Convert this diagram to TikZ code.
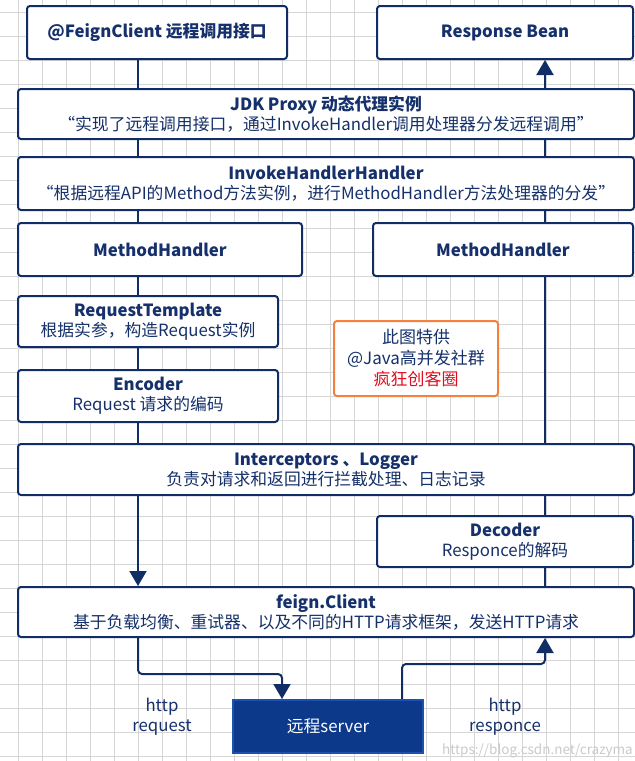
\documentclass[tikz,border=0pt]{standalone}
\usepackage{fontspec}
\setmainfont{Noto Sans CJK SC}
\usepackage{xcolor}
\definecolor{navyText}{HTML}{15306A}
\definecolor{navyLine}{HTML}{112D66}
\definecolor{srvFill}{HTML}{0D398A}
\definecolor{srvEdge}{HTML}{1E50B4}
\definecolor{noteOrange}{HTML}{F5813C}
\definecolor{noteRed}{HTML}{E00D1E}
\definecolor{gridGray}{HTML}{D6D6D6}
\definecolor{markGray}{HTML}{CACACA}
\usetikzlibrary{arrows.meta}

\begin{document}
\begin{tikzpicture}[x=1pt, y=-1pt,
    flowbox/.style={draw=navyLine, line width=2pt, fill=white, rounded corners=3pt, text=navyText, align=center, inner sep=0pt, font=\fontsize{16.8}{20}\selectfont},
    srvbox/.style={draw=srvEdge, line width=2pt, fill=srvFill, text=white, inner sep=0pt, font=\fontsize{16.8}{20}\selectfont},
    notebox/.style={draw=noteOrange, line width=2pt, fill=white, rounded corners=3pt, text=navyText, align=center, inner sep=0pt, font=\fontsize{17}{21}\selectfont},
    conn/.style={draw=navyLine, line width=2pt, rounded corners=4pt},
    headed/.style={-{Triangle[width=17pt,length=15pt]}},
    lbl/.style={text=navyText, align=center, font=\fontsize{16.8}{20}\selectfont}]
  \fill [white] (0,0) rectangle (635,761);
  \useasboundingbox (0,0) rectangle (635,761);
  \foreach \gx in {18,42,...,634} \draw [gridGray, line width=0.8pt] (\gx,0) -- (\gx,761);
  \foreach \gy in {12,36,...,756} \draw [gridGray, line width=0.8pt] (0,\gy) -- (635,\gy);
  \coordinate (lx) at (138,0);
  \coordinate (rx) at (545,0);
  \coordinate (inX) at (282,0);
  \coordinate (outX) at (402,0);

  \node [flowbox, minimum width=260pt, minimum height=53pt] (feignIf) at (157,32.5) {\textbf{@FeignClient 远程调用接口}};
  \node [flowbox, minimum width=256pt, minimum height=53pt] (respBean) at (505,32.5) {\textbf{Response Bean}};
  \node [flowbox, minimum width=616pt, minimum height=50pt] (jdkProxy) at (326,114) {\textbf{JDK Proxy 动态代理实例}\\“实现了远程调用接口，通过InvokeHandler调用处理器分发远程调用”};
  \node [flowbox, minimum width=616pt, minimum height=53pt] (invokeH) at (326,183.5) {\textbf{InvokeHandlerHandler}\\“根据远程API的Method方法实例，进行MethodHandler方法处理器的分发”};
  \node [flowbox, minimum width=284pt, minimum height=53pt] (methodL) at (160,249.5) {\textbf{MethodHandler}};
  \node [flowbox, minimum width=260pt, minimum height=53pt] (methodR) at (503,249.5) {\textbf{MethodHandler}};
  \node [flowbox, minimum width=260pt, minimum height=51pt] (reqTpl) at (148,321.5) {\textbf{RequestTemplate}\\根据实参，构造Request实例};
  \node [flowbox, minimum width=260pt, minimum height=52pt] (encoder) at (148,396) {\textbf{Encoder}\\Request 请求的编码};
  \node [flowbox, minimum width=616pt, minimum height=51pt] (intercept) at (326,469.5) {\textbf{Interceptors 、Logger}\\负责对请求和返回进行拦截处理、日志记录};
  \node [flowbox, minimum width=256pt, minimum height=51pt] (decoder) at (505,541.5) {\textbf{Decoder}\\Responce的解码};
  \node [flowbox, minimum width=616pt, minimum height=50pt] (client) at (326,612) {\textbf{feign.Client}\\基于负载均衡、重试器、以及不同的HTTP请求框架，发送HTTP请求};
  \node [srvbox, minimum width=190pt, minimum height=53pt] (server) at (328,726.5) {远程server};
  \node [notebox, minimum width=164pt, minimum height=75pt] (notice) at (416,358.5) {此图特供\\@Java高并发社群\\\textcolor{noteRed}{疯狂创客圈}};
  \node [lbl] (reqLbl) at (162,717) {http\\request};
  \node [lbl] (respLbl) at (505,717) {http\\responce};
  \node [text=markGray, anchor=east, inner sep=0pt, font=\fontsize{13.5}{16}\selectfont] (mark) at (633,751) {https://blog.csdn.net/crazyma};

  \draw [conn] (feignIf.south -| lx) -- (jdkProxy.north -| lx);
  \draw [conn] (jdkProxy.south -| lx) -- (invokeH.north -| lx);
  \draw [conn] (invokeH.south -| lx) -- (methodL.north -| lx);
  \draw [conn] (methodL.south -| lx) -- (reqTpl.north -| lx);
  \draw [conn] (reqTpl.south -| lx) -- (encoder.north -| lx);
  \draw [conn] (encoder.south -| lx) -- (intercept.north -| lx);
  \draw [conn, headed] (intercept.south -| lx) -- (client.north -| lx);
  \draw [conn, headed] (client.south -| lx) -- ++(0,36) -| (server.north -| inX);
  \draw [conn, headed] (server.north -| outX) -- ++(0,-35) -| (client.south -| rx);
  \draw [conn] (decoder.south -| rx) -- (client.north -| rx);
  \draw [conn] (intercept.south -| rx) -- (decoder.north -| rx);
  \draw [conn] (methodR.south -| rx) -- (intercept.north -| rx);
  \draw [conn] (invokeH.south -| rx) -- (methodR.north -| rx);
  \draw [conn] (invokeH.north -| rx) -- (jdkProxy.south -| rx);
  \draw [conn, headed] (jdkProxy.north -| rx) -- (respBean.south -| rx);
\end{tikzpicture}
\end{document}
